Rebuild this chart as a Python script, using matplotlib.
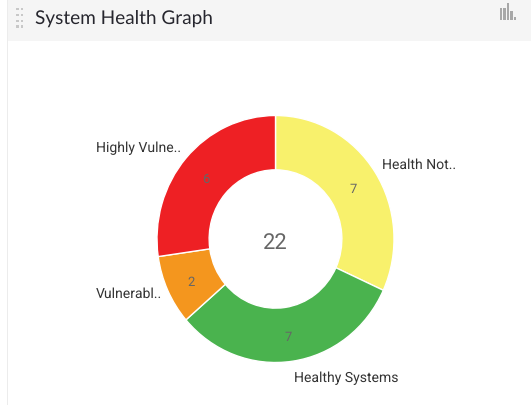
import matplotlib
matplotlib.use("Agg")
import matplotlib.pyplot as plt
from matplotlib.patches import Rectangle

# Chart data, clockwise from 12 o'clock
categories = ['Health Not..', 'Healthy Systems', 'Vulnerabl..', 'Highly Vulne..']
values = [7, 7, 2, 6]
colors = ['#f8f16c', '#4ab34e', '#f4961e', '#ee2024']
total = 22
title = 'System Health Graph'

WIDTH = 531
HEIGHT = 406

# Hinting makes Lato widths jump between sizes
plt.rcParams['text.hinting'] = 'no_hinting'
plt.rcParams['text.hinting_factor'] = 1

fig = plt.figure(figsize=(WIDTH / 100, HEIGHT / 100), dpi=100, facecolor='white')

# Overlay in pixel coordinates for the panel header
bg = fig.add_axes([0, 0, 1, 1])
bg.set_xlim(0, WIDTH)
bg.set_ylim(HEIGHT, 0)
bg.axis('off')
bg.add_patch(Rectangle((8, 0), WIDTH - 8, 41.5, color='#f5f5f5', lw=0))
bg.add_patch(Rectangle((6.5, 0), 1.5, HEIGHT, color='#ececec', lw=0))

# Drag handle
for x in (17.5, 22):
    for y in (10, 16, 22, 27.5):
        bg.add_patch(Rectangle((x - 1.3, y - 1.3), 2.6, 2.6, color='#c8c8c8', lw=0))

# Bar icon in the corner
for x, top, bottom in [(499.5, 9, 21), (503, 9, 21), (506.5, 4, 21), (510, 12, 21), (513.5, 18, 21)]:
    bg.add_patch(Rectangle((x, top), 2.6, bottom - top, color='#a8a8a8', lw=0))

bg.text(35, 18.5, title, fontsize=13.7, family='Lato', color='#26262e', va='center', ha='left')

# Donut, slightly taller than wide as in the screenshot
cx, cy, rx, ry = 275.5, 240, 118.5, 123.5
ax = fig.add_axes([(cx - rx) / WIDTH, 1 - (cy + ry) / HEIGHT, 2 * rx / WIDTH, 2 * ry / HEIGHT])
wedges, _, autotexts = ax.pie(
    values, colors=colors, startangle=90, counterclock=False, radius=1,
    wedgeprops={'width': 0.44, 'edgecolor': 'white', 'linewidth': 1},
    autopct=lambda p: f'{round(p * sum(values) / 100):d}', pctdistance=0.78,
    textprops={'fontsize': 9.5, 'family': 'Roboto', 'color': '#666666'},
)
ax.set_aspect('auto')
ax.set_xlim(-1, 1)
ax.set_ylim(-1, 1)

# Nudge the value labels down a little
for t in autotexts:
    px, py = t.get_position()
    t.set_position((px, py - 0.016))

ax.text(0, -0.022, str(total), fontsize=16, family='Roboto', color='#666666', ha='center', va='center')

# Outside labels
label_pos = [(382, 165.5, 'left'), (294, 378.5, 'left'), (96, 294.5, 'left'), (96, 148.5, 'left')]
for name, (x, y, ha) in zip(categories, label_pos):
    bg.text(x, y, name, fontsize=10, family='Roboto', color='#333333', ha=ha, va='center')

fig.savefig('out.png', dpi=100)
